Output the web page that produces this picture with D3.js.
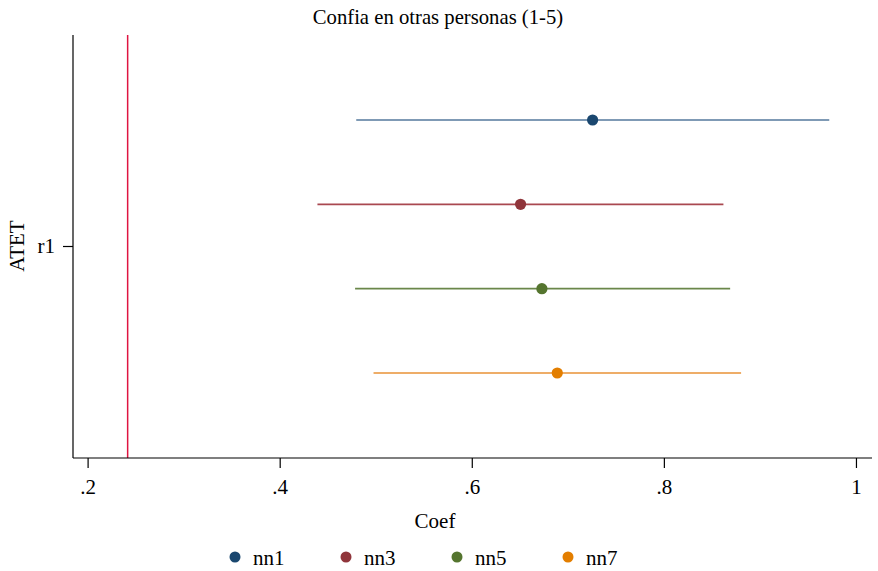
<!DOCTYPE html>
<html><head><meta charset="utf-8">
<script src="https://cdn.jsdelivr.net/npm/d3@7"></script>
<style>body{margin:0;background:#fff}svg{display:block}</style>
</head><body><svg id="c" width="878" height="571"></svg>
<script>
const series = ["nn1","nn3","nn5","nn7"];
const coef = [0.7258, 0.6508, 0.6730, 0.6890];
const ciLow = [0.4797, 0.4393, 0.4785, 0.4977];
const ciHigh = [0.9722, 0.8620, 0.8690, 0.8804];
const colors = ["#1a476f","#90353b","#55752f","#e37e00"];
const lineColors = ["#55799c","#a94850","#6a874a","#e99236"];
const xTicks = [0.2, 0.4, 0.6, 0.8, 1];
const refLine = 0.2417;
const yCats = ["r1"];

const FONT = "'Liberation Serif', 'Times New Roman', serif";
const svg = d3.select("#c");
const L = 73, R = 872, T = 35, B = 458;
const x = d3.scaleLinear().domain([0.1848, 1.0167]).range([L, R]);
const yBand = d3.scalePoint().domain(series).range([120, 373]);
const yCat = d3.scalePoint().domain(yCats).range([246, 246]);

// title
svg.append("text").attr("x", 438).attr("y", 24).attr("text-anchor","middle")
  .style("font-family", FONT).style("font-size","20.7px").text("Confia en otras personas (1-5)");

// reference line
svg.append("line").attr("x1", x(refLine)).attr("x2", x(refLine)).attr("y1", T).attr("y2", B)
  .attr("stroke","#df1441").attr("stroke-width",1.5);

// x axis
const xa = svg.append("g").attr("transform",`translate(0,${B})`)
  .call(d3.axisBottom(x).tickValues(xTicks).tickSize(10).tickPadding(8)
    .tickFormat(d => d === 1 ? "1" : d3.format(".1f")(d).replace(/^0/,"")));
xa.attr("font-family", null);
xa.select(".domain").remove();
xa.selectAll(".tick line").attr("stroke","#000").attr("stroke-width",1.2);
xa.selectAll(".tick text").style("font-family", FONT).style("font-size","21px").attr("fill","#000").attr("dy","0.85em");
svg.append("line").attr("x1",L).attr("x2",R).attr("y1",B).attr("y2",B).attr("stroke","#000").attr("stroke-width",1.2);

// y axis
const ya = svg.append("g").attr("transform",`translate(${L},0)`)
  .call(d3.axisLeft(yCat).tickSize(10).tickPadding(8));
ya.attr("font-family", null);
ya.select(".domain").remove();
ya.selectAll(".tick line").attr("stroke","#000").attr("stroke-width",1.2);
ya.selectAll(".tick text").style("font-family", FONT).style("font-size","21px").attr("fill","#000");
svg.append("line").attr("x1",L).attr("x2",L).attr("y1",T).attr("y2",B).attr("stroke","#000").attr("stroke-width",1.2);

// axis titles
svg.append("text").attr("x", 435).attr("y", 528).attr("text-anchor","middle")
  .style("font-family", FONT).style("font-size","21px").text("Coef");
svg.append("text").attr("transform","translate(24,246) rotate(-90)").attr("text-anchor","middle")
  .style("font-family", FONT).style("font-size","21px").text("ATET");

// CIs and points
series.forEach((s,i) => {
  svg.append("line").attr("x1", x(ciLow[i])).attr("x2", x(ciHigh[i]))
    .attr("y1", yBand(s)).attr("y2", yBand(s))
    .attr("stroke", lineColors[i]).attr("stroke-width", 1.6);
  svg.append("circle").attr("cx", x(coef[i])).attr("cy", yBand(s)).attr("r", 5.6)
    .attr("fill", colors[i]);
});

// legend
const lg = svg.append("g");
const legX = d3.scalePoint().domain(series).range([235, 568]);
series.forEach((s,i) => {
  lg.append("circle").attr("cx", legX(s)).attr("cy", 557).attr("r", 5.5).attr("fill", colors[i]);
  lg.append("text").attr("x", legX(s) + 18).attr("y", 565)
    .style("font-family", FONT).style("font-size","21px").text(s);
});
</script></body></html>
